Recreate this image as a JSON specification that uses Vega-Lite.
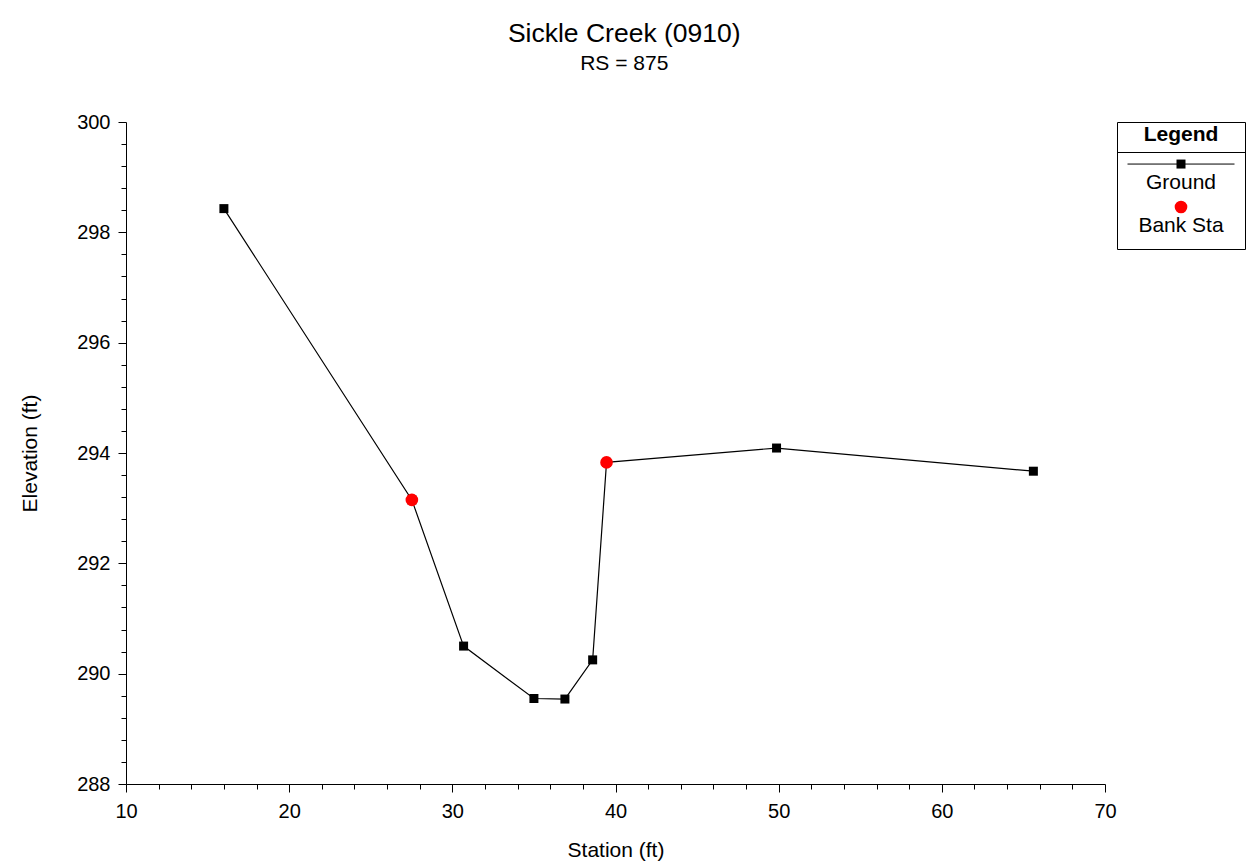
{
  "$schema": "https://vega.github.io/schema/vega-lite/v6.json",
  "background": "white",
  "padding": {"left": 19, "top": 20, "right": 5, "bottom": 5},
  "config": {
    "font": "Liberation Sans",
    "view": {"stroke": null},
    "axis": {"domainColor": "black", "tickColor": "black", "labelColor": "black", "titleColor": "black", "grid": false, "titleFontWeight": "normal", "domainWidth": 1, "tickWidth": 1}
  },
  "title": {
    "text": "Sickle Creek (0910)",
    "subtitle": "RS = 875",
    "fontSize": 26.5,
    "subtitleFontSize": 21,
    "fontWeight": "normal",
    "color": "black",
    "subtitleColor": "black",
    "anchor": "middle",
    "dx": -8,
    "offset": 38,
    "subtitlePadding": 6
  },
  "data": {
    "values": [
      {"station": 16.0, "elevation": 298.43, "series": "Ground"},
      {"station": 27.52, "elevation": 293.15, "series": "Ground"},
      {"station": 30.69, "elevation": 290.5, "series": "Ground"},
      {"station": 35.0, "elevation": 289.55, "series": "Ground"},
      {"station": 36.9, "elevation": 289.54, "series": "Ground"},
      {"station": 38.6, "elevation": 290.25, "series": "Ground"},
      {"station": 39.45, "elevation": 293.83, "series": "Ground"},
      {"station": 49.87, "elevation": 294.09, "series": "Ground"},
      {"station": 65.61, "elevation": 293.67, "series": "Ground"},
      {"station": 27.52, "elevation": 293.15, "series": "Bank Sta"},
      {"station": 39.45, "elevation": 293.83, "series": "Bank Sta"}
    ]
  },
  "spacing": -8,
  "hconcat": [
    {
      "width": 979,
      "height": 662,
      "view": {"stroke": null},
      "encoding": {
        "x": {
          "field": "station", "type": "quantitative",
          "scale": {"domain": [10, 70], "nice": false, "zero": false},
          "axis": {
            "title": "Station (ft)",
            "values": [10,12,14,16,18,20,22,24,26,28,30,32,34,36,38,40,42,44,46,48,50,52,54,56,58,60,62,64,66,68,70],
            "labelExpr": "datum.value % 10 === 0 ? format(datum.value, 'd') : ''",
            "tickSize": {"condition": {"test": "datum.value % 10 === 0", "value": 8}, "value": 5},
            "labelFlush": false,
            "labelOverlap": false,
            "labelFontSize": 20,
            "labelPadding": 9,
            "titleFontSize": 21,
            "titleY": 72,
            "titleBaseline": "alphabetic"
          }
        },
        "y": {
          "field": "elevation", "type": "quantitative",
          "scale": {"domain": [288, 300], "nice": false, "zero": false},
          "axis": {
            "title": "Elevation (ft)",
            "values": [288,288.4,288.8,289.2,289.6,290,290.4,290.8,291.2,291.6,292,292.4,292.8,293.2,293.6,294,294.4,294.8,295.2,295.6,296,296.4,296.8,297.2,297.6,298,298.4,298.8,299.2,299.6,300],
            "labelExpr": "datum.value % 2 === 0 ? format(datum.value, 'd') : ''",
            "tickSize": {"condition": {"test": "datum.value % 2 === 0", "value": 8}, "value": 5},
            "labelOverlap": false,
            "labelFontSize": 20,
            "labelPadding": 8,
            "titleFontSize": 21,
            "titleX": -90,
            "titleBaseline": "alphabetic"
          }
        }
      },
      "layer": [
        {
          "transform": [{"filter": "datum.series === 'Ground'"}],
          "mark": {"type": "line", "color": "black", "strokeWidth": 1.2}
        },
        {
          "transform": [{"filter": "datum.series === 'Ground'"}],
          "mark": {"type": "point", "shape": "square", "size": 81, "filled": true, "color": "black", "opacity": 1}
        },
        {
          "transform": [{"filter": "datum.series === 'Bank Sta'"}],
          "mark": {"type": "point", "shape": "circle", "size": 160, "filled": true, "color": "red", "opacity": 1}
        }
      ]
    },
    {
      "width": 128,
      "height": 127,
      "view": {"stroke": "black", "strokeWidth": 1, "fill": "white"},
      "title": {"text": "Legend", "fontSize": 21, "fontWeight": "bold", "anchor": "middle", "frame": "group", "offset": -23, "color": "black"},
      "transform": [{"aggregate": [{"op": "count", "as": "n"}], "groupby": ["series"]}],
      "encoding": {
        "x": {
          "datum": 0, "type": "quantitative",
          "scale": {"domain": [-1, 1]},
          "axis": {"orient": "top", "offset": -30, "domain": true, "domainColor": "black", "domainWidth": 1, "ticks": false, "labels": false, "title": null, "grid": false}
        },
        "y": {
          "field": "series", "type": "nominal",
          "sort": ["Ground", "Bank Sta"],
          "scale": {"type": "point", "padding": 0.98},
          "axis": null
        }
      },
      "layer": [
        {
          "transform": [{"filter": "datum.series === 'Ground'"}],
          "mark": {"type": "point", "shape": "stroke", "size": 11449, "filled": false, "color": "black", "strokeWidth": 1, "opacity": 1}
        },
        {
          "transform": [{"filter": "datum.series === 'Ground'"}],
          "mark": {"type": "point", "shape": "square", "size": 81, "filled": true, "color": "black", "opacity": 1}
        },
        {
          "transform": [{"filter": "datum.series === 'Bank Sta'"}],
          "mark": {"type": "point", "shape": "circle", "size": 160, "filled": true, "color": "red", "opacity": 1}
        },
        {
          "mark": {"type": "text", "fontSize": 21, "dy": 25, "baseline": "alphabetic", "align": "center", "color": "black"},
          "encoding": {"text": {"field": "series"}}
        }
      ]
    }
  ]
}
